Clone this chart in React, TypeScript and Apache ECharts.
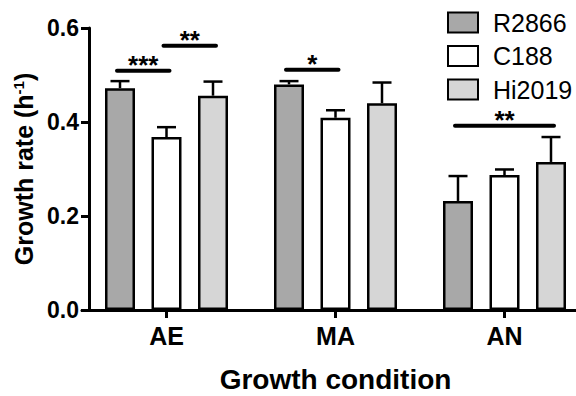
import React, { useEffect, useRef } from "react";
import * as echarts from "echarts";

const categories = ["AE", "MA", "AN"];
const seriesNames = ["R2866", "C188", "Hi2019"];
const r2866 = [0.472, 0.48, 0.232];
const r2866Err = [0.015, 0.007, 0.053];
const c188 = [0.368, 0.409, 0.287];
const c188Err = [0.021, 0.016, 0.012];
const hi2019 = [0.456, 0.44, 0.315];
const hi2019Err = [0.03, 0.044, 0.053];
const yTicks = [0, 0.2, 0.4, 0.6];

// significance brackets: category, from bar, to bar, height, label
const bracketCats = [0, 0, 1, 2];
const bracketFrom = [0, 1, 0, 0];
const bracketTo = [1, 2, 1, 2];
const bracketY = [0.509, 0.562, 0.511, 0.392];
const bracketLabels = ["***", "**", "*", "**"];

const FONT = "'Liberation Sans', Arial, Helvetica, sans-serif";
const BAR_W = 30;
const BAR_GAP = 0.55;
const SPACING = BAR_W * (1 + BAR_GAP);
const colors = ["#a8a8a8", "#ffffff", "#d6d6d6"];

export default function App() {
  const ref = useRef<HTMLDivElement>(null);
  useEffect(() => {
    const chart = echarts.init(ref.current as HTMLDivElement, null, { renderer: "svg" });
    const values = [r2866, c188, hi2019];
    const errs = [r2866Err, c188Err, hi2019Err];

    const barSeries = seriesNames.map((name, k) => ({
      name,
      type: "bar",
      data: values[k],
      barWidth: BAR_W,
      barGap: BAR_GAP * 100 + "%",
      itemStyle: { color: colors[k], borderColor: "#000", borderWidth: 2.5 },
      z: 2,
    }));

    const errData: number[][] = [];
    values.forEach((arr, k) =>
      arr.forEach((v, i) => errData.push([i, v, errs[k][i], k]))
    );

    const errSeries = {
      type: "custom",
      data: errData,
      z: 3,
      silent: true,
      encode: { x: 0, y: 1 },
      renderItem: (params: any, api: any) => {
        const cat = api.value(0);
        const v = api.value(1);
        const e = api.value(2);
        const k = api.value(3);
        const b = api.coord([cat, v]);
        const t = api.coord([cat, v + e]);
        const x = b[0] + (k - 1) * SPACING;
        const st = { stroke: "#000", lineWidth: 2.5 };
        return {
          type: "group",
          children: [
            { type: "line", shape: { x1: x, y1: b[1], x2: x, y2: t[1] }, style: st },
            { type: "line", shape: { x1: x - 9.5, y1: t[1], x2: x + 9.5, y2: t[1] }, style: st },
          ],
        };
      },
    };

    const bracketData = bracketCats.map((c, i) => [c, bracketY[i]]);
    const bracketSeries = {
      type: "custom",
      data: bracketData,
      z: 4,
      silent: true,
      encode: { x: 0, y: 1 },
      renderItem: (params: any, api: any) => {
        const idx = params.dataIndex;
        const p = api.coord([api.value(0), api.value(1)]);
        const x1 = p[0] + (bracketFrom[idx] - 1) * SPACING - 3;
        const x2 = p[0] + (bracketTo[idx] - 1) * SPACING + 3;
        return {
          type: "group",
          children: [
            {
              type: "line",
              shape: { x1, y1: p[1], x2, y2: p[1] },
              style: { stroke: "#000", lineWidth: 4, lineCap: "round" },
            },
            {
              type: "text",
              x: (x1 + x2) / 2,
              y: p[1] - 6,
              style: {
                text: bracketLabels[idx],
                fontSize: 26,
                fontWeight: "bold",
                fontFamily: FONT,
                fill: "#000",
                align: "center",
                verticalAlign: "middle",
              },
            },
          ],
        };
      },
    };

    chart.setOption({
      animation: false,
      backgroundColor: "#fff",
      grid: { left: 82, width: 507, top: 28, height: 282, containLabel: false, outerBoundsMode: "none" },
      legend: {
        orient: "vertical",
        left: 447,
        top: 10,
        padding: 0,
        itemWidth: 30,
        itemHeight: 20,
        itemGap: 8.5,
        icon: "rect",
        data: seriesNames,
        textStyle: {
          fontSize: 25,
          fontFamily: FONT,
          color: "#000",
          lineHeight: 20,
          padding: [0, 0, 0, 10],
        },
      },
      xAxis: {
        type: "category",
        data: categories,
        axisLine: { show: true, lineStyle: { color: "#000", width: 3 } },
        axisTick: { show: true, alignWithLabel: true, length: 8, lineStyle: { color: "#000", width: 3 } },
        axisLabel: { fontSize: 25, fontWeight: "bold", fontFamily: FONT, color: "#000", margin: 13 },
        name: "Growth condition",
        nameLocation: "middle",
        nameGap: 55,
        nameTextStyle: { fontSize: 28, fontWeight: "bold", fontFamily: FONT, color: "#000" },
      },
      yAxis: {
        type: "value",
        min: yTicks[0],
        max: yTicks[yTicks.length - 1],
        interval: yTicks[1] - yTicks[0],
        offset: -7,
        splitLine: { show: false },
        axisLine: { show: true, lineStyle: { color: "#000", width: 3 } },
        axisTick: { show: true, length: 8, lineStyle: { color: "#000", width: 3 } },
        axisLabel: {
          fontSize: 23,
          fontWeight: "bold",
          fontFamily: FONT,
          color: "#000",
          margin: 10,
          formatter: (v: number) => v.toFixed(1),
        },
        name: "{a|Growth rate (h}{s|-1}{a|)}",
        nameLocation: "middle",
        nameGap: 50,
        nameTextStyle: {
          color: "#000",
          rich: {
            a: { fontSize: 25, fontWeight: "bold", fontFamily: FONT, color: "#000" },
            s: { fontSize: 15, fontWeight: "bold", fontFamily: FONT, color: "#000", verticalAlign: "top" },
          },
        },
      },
      series: [...barSeries, errSeries, bracketSeries],
    });
    return () => chart.dispose();
  }, []);
  return (
    <div
      ref={ref}
      style={{ position: "fixed", left: 0, top: 0, width: 576, height: 396 }}
    />
  );
}
